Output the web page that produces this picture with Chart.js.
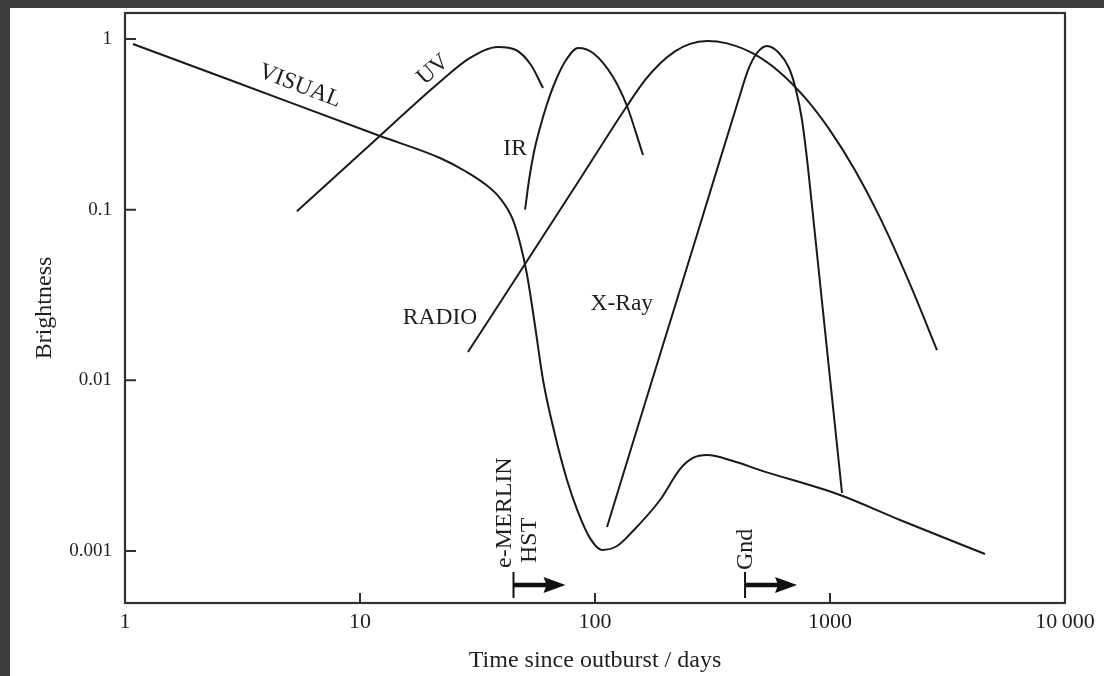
<!DOCTYPE html>
<html>
<head>
<meta charset="utf-8">
<script src="https://cdn.jsdelivr.net/npm/chart.js@4.4.1/dist/chart.umd.min.js"></script>
<style>
  html, body { margin: 0; padding: 0; background: #3c3c3c; }
  canvas { display: block; }
</style>
</head>
<body>
<canvas id="chart" width="1104" height="676"></canvas>
<script>
// Light curves of the outburst, brightness against days since outburst (log-log)
const visualDays = [1.081, 2.797, 12.17, 21.9, 27.98, 34.0, 39.4, 44.4, 47.97, 51.4, 55.5, 60.1, 67.6, 76.0, 84.7, 95.2, 107.1, 124.1, 145.1, 189.1, 230, 261.2, 299.7, 386.5, 503.6, 1103, 1986, 4567];
const visualBrightness = [0.935, 0.575, 0.27, 0.2008, 0.1685, 0.1414, 0.117, 0.0894, 0.0638, 0.0414, 0.0211, 0.01005, 0.00478, 0.00261, 0.00169, 0.00119, 0.001014, 0.00107, 0.00131, 0.00199, 0.00302, 0.00351, 0.00365, 0.00337, 0.00298, 0.00213, 0.00152, 0.00096];

const uvDays = [5.39, 10.9, 22.1, 29.4, 38.7, 46.1, 53.4, 60.1];
const uvBrightness = [0.098, 0.236, 0.567, 0.774, 0.898, 0.862, 0.704, 0.516];

const irDays = [50.4, 52.4, 55.0, 58.3, 62.5, 68.2, 75.3, 84.7, 98.1, 119.3, 136.8, 160.1];
const irBrightness = [0.1, 0.1492, 0.2177, 0.301, 0.416, 0.575, 0.753, 0.886, 0.828, 0.599, 0.405, 0.209];

const radioDays = [28.8, 50.4, 88.0, 136.8, 163.2, 189.1, 219.0, 253.7, 299.7, 364.6, 470.2, 612.6, 782.6, 1000, 1278, 1632, 2190, 2852];
const radioBrightness = [0.01466, 0.048, 0.1575, 0.405, 0.5735, 0.7185, 0.8459, 0.9361, 0.9734, 0.9424, 0.8224, 0.6371, 0.4529, 0.2917, 0.1703, 0.0898, 0.03664, 0.01505];

const xrayDays = [112.5, 171.4, 279.8, 414.0, 447.9, 489.0, 539.5, 606.7, 669.2, 716.6, 760.2, 806.3, 863.5, 1125];
const xrayBrightness = [0.001382, 0.00914, 0.0813, 0.4697, 0.6581, 0.8277, 0.91, 0.8277, 0.6762, 0.5026, 0.3352, 0.1754, 0.0711, 0.002187];

const xTickValues = [1, 10, 100, 1000, 10000];
const xTickLabels = ['1', '10', '100', '1000', '10\u2009000'];
const yTickValues = [0.001, 0.01, 0.1, 1];
const yTickLabels = ['0.001', '0.01', '0.1', '1'];

// Observation campaigns: start day of each monitoring window
const campaignStartDays = [45, 435];
const campaignNames = [['e-MERLIN', 'HST'], ['Gnd']];

const SERIF = '"Liberation Serif", "DejaVu Serif", serif';
const INK = '#1f1f1f';
const LINE = '#1a1a1a';

function pairs(xs, ys) { return xs.map((x, i) => ({ x, y: ys[i] })); }

function curve(name, xs, ys) {
  return {
    label: name,
    data: pairs(xs, ys),
    showLine: true,
    borderColor: LINE,
    borderWidth: 2,
    pointRadius: 0,
    pointHoverRadius: 0,
    fill: false,
    cubicInterpolationMode: 'monotone'
  };
}

// Curve name tags, anchored in data coordinates
const curveTags = [
  { text: 'VISUAL', day: 5.55, value: 0.53, angle: 21 },
  { text: 'UV', day: 20.5, value: 0.66, angle: -41 },
  { text: 'IR', day: 45.7, value: 0.227, angle: 0 },
  { text: 'RADIO', day: 21.9, value: 0.0232, angle: 0 },
  { text: 'X-Ray', day: 130, value: 0.028, angle: 0 }
];

// Vertical campaign names: horizontal shift from the start bar, gap above the axis
const campaignNameLayout = [[{ dx: -9, gap: 35 }, { dx: 16, gap: 40 }], [{ dx: 1, gap: 33 }]];

const pagePlugin = {
  id: 'page',
  beforeDraw(chart) {
    const ctx = chart.ctx;
    ctx.save();
    ctx.fillStyle = '#3c3c3c';
    ctx.fillRect(0, 0, chart.width, chart.height);
    ctx.fillStyle = '#ffffff';
    ctx.fillRect(10, 8, chart.width - 10, chart.height - 8);
    ctx.restore();
  }
};

const framePlugin = {
  id: 'frame',
  afterDraw(chart) {
    const { ctx, chartArea: a, scales } = chart;
    ctx.save();
    ctx.strokeStyle = '#303030';
    ctx.lineWidth = 2.2;
    ctx.strokeRect(a.left, a.top, a.right - a.left, a.bottom - a.top);
    // inward tick marks
    ctx.lineWidth = 2;
    ctx.beginPath();
    xTickValues.forEach(v => {
      const px = scales.x.getPixelForValue(v);
      ctx.moveTo(px, a.bottom);
      ctx.lineTo(px, a.bottom - 10);
    });
    yTickValues.forEach(v => {
      const py = scales.y.getPixelForValue(v);
      ctx.moveTo(a.left, py);
      ctx.lineTo(a.left + 11, py);
    });
    ctx.stroke();

    // curve name tags
    ctx.fillStyle = INK;
    ctx.font = '23.5px ' + SERIF;
    ctx.textAlign = 'center';
    ctx.textBaseline = 'middle';
    curveTags.forEach(t => {
      const px = scales.x.getPixelForValue(t.day);
      const py = scales.y.getPixelForValue(t.value);
      ctx.save();
      ctx.translate(px, py);
      ctx.rotate(t.angle * Math.PI / 180);
      ctx.fillText(t.text, 0, 0);
      ctx.restore();
    });

    // observation windows: start bar, arrow and vertical names
    campaignStartDays.forEach((d, i) => {
      const px = scales.x.getPixelForValue(d);
      const yArrow = a.bottom - 18;
      ctx.strokeStyle = '#111';
      ctx.fillStyle = '#111';
      ctx.lineWidth = 2;
      ctx.beginPath();
      ctx.moveTo(px, a.bottom - 31);
      ctx.lineTo(px, a.bottom - 5);
      ctx.stroke();
      ctx.lineWidth = 4.5;
      ctx.beginPath();
      ctx.moveTo(px, yArrow);
      ctx.lineTo(px + 36, yArrow);
      ctx.stroke();
      ctx.beginPath();
      ctx.moveTo(px + 52, yArrow);
      ctx.lineTo(px + 30, yArrow - 8);
      ctx.lineTo(px + 33, yArrow);
      ctx.lineTo(px + 30, yArrow + 8);
      ctx.closePath();
      ctx.fill();

      ctx.fillStyle = INK;
      ctx.font = '24px ' + SERIF;
      ctx.textAlign = 'left';
      ctx.textBaseline = 'middle';
      campaignNames[i].forEach((name, k) => {
        const lay = campaignNameLayout[i][k];
        ctx.save();
        ctx.translate(px + lay.dx, a.bottom - lay.gap);
        ctx.rotate(-Math.PI / 2);
        ctx.fillText(name, 0, 0);
        ctx.restore();
      });
    });
    ctx.restore();
  }
};

new Chart(document.getElementById('chart'), {
  type: 'scatter',
  data: {
    datasets: [
      curve('VISUAL', visualDays, visualBrightness),
      curve('UV', uvDays, uvBrightness),
      curve('IR', irDays, irBrightness),
      curve('RADIO', radioDays, radioBrightness),
      curve('X-Ray', xrayDays, xrayBrightness)
    ]
  },
  options: {
    responsive: false,
    animation: false,
    devicePixelRatio: 1,
    layout: { padding: { left: 0, top: 13, right: 39, bottom: 0 } },
    plugins: {
      legend: { display: false },
      tooltip: { enabled: false }
    },
    scales: {
      x: {
        type: 'logarithmic',
        min: 1,
        max: 10000,
        grid: { display: false, drawTicks: false },
        border: { display: false },
        afterBuildTicks(s) { s.ticks = xTickValues.map(v => ({ value: v })); },
        afterFit(s) { s.height = 73; s.paddingLeft = 0; s.paddingRight = 0; },
        ticks: {
          autoSkip: false,
          maxRotation: 0,
          padding: 6,
          color: INK,
          font: { family: SERIF, size: 22 },
          callback: (v, i) => xTickLabels[i]
        },
        title: {
          display: true,
          text: 'Time since outburst / days',
          color: INK,
          font: { family: SERIF, size: 24 },
          padding: { top: 0, bottom: 0.6 }
        }
      },
      y: {
        type: 'logarithmic',
        min: 0.000496,
        max: 1.42,
        grid: { display: false, drawTicks: false },
        border: { display: false },
        afterBuildTicks(s) { s.ticks = yTickValues.map(v => ({ value: v })); },
        afterFit(s) { s.width = 125; s.paddingTop = 0; s.paddingBottom = 0; },
        ticks: {
          autoSkip: false,
          padding: 13,
          color: INK,
          font: { family: SERIF, size: 19 },
          callback: (v, i) => yTickLabels[i]
        },
        title: {
          display: true,
          text: 'Brightness',
          color: INK,
          font: { family: SERIF, size: 24 },
          padding: { top: 30.6, bottom: 0 }
        }
      }
    }
  },
  plugins: [pagePlugin, framePlugin]
});
</script>
</body>
</html>
